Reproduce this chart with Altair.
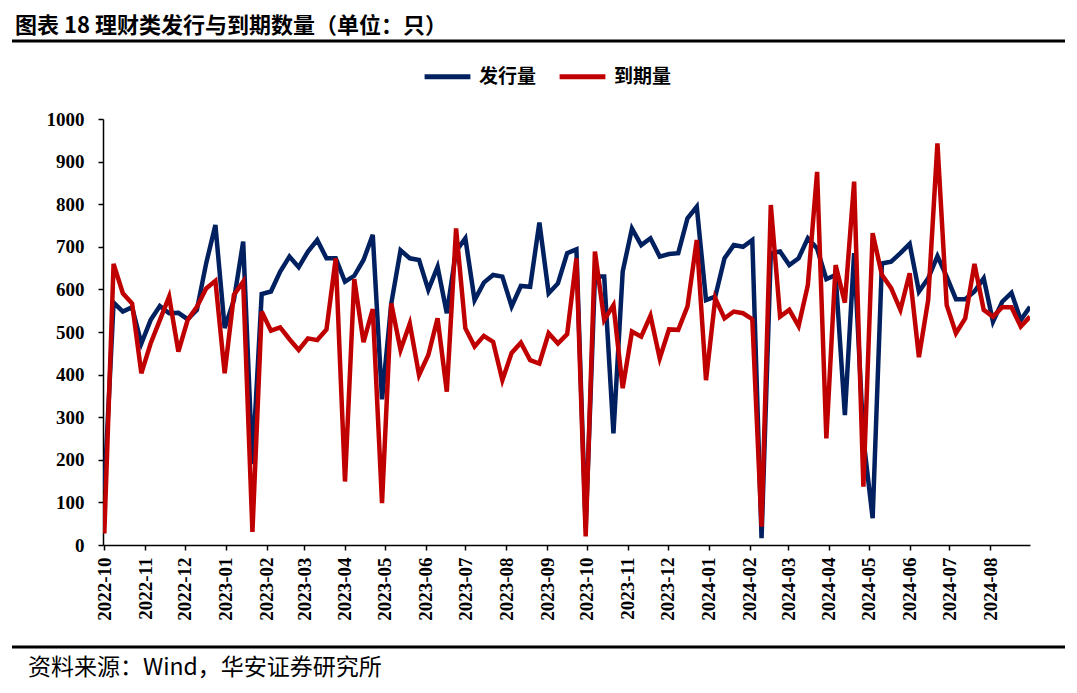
import altair as alt
import pandas as pd

# ---------------- data ----------------
title_text = "图表 18 理财类发行与到期数量（单位：只）"
source_text = "资料来源：Wind，华安证券研究所"
series_names = ["发行量", "到期量"]
series_colors = ["#002060", "#C00000"]

month_ticks = ["2022-10", "2022-11", "2022-12", "2023-01", "2023-02", "2023-03",
               "2023-04", "2023-05", "2023-06", "2023-07", "2023-08", "2023-09",
               "2023-10", "2023-11", "2023-12", "2024-01", "2024-02", "2024-03",
               "2024-04", "2024-05", "2024-06", "2024-07", "2024-08"]
y_ticks = [0, 100, 200, 300, 400, 500, 600, 700, 800, 900, 1000]

start_date = "2022-10-01"   # weekly observations from this date
x_domain = ["2022-09-30", "2024-08-31"]

issue = [
    130, 569, 548, 558, 473, 528, 561, 544, 545, 530,
    552, 661, 751, 509, 575, 712, 190, 589, 595, 642,
    677, 652, 689, 716, 673, 673, 618, 632, 669, 728,
    342, 567, 692, 673, 669, 599, 653, 544, 690, 720,
    575, 616, 634, 630, 560, 608, 606, 757, 591, 614,
    685, 694, 40, 630, 630, 262, 642, 743, 704, 720,
    677, 683, 685, 767, 794, 575, 583, 673, 704, 700,
    716, 16, 685, 689, 657, 673, 720, 696, 624, 634,
    305, 685, 250, 63, 661, 665, 685, 707, 595, 626,
    678, 630, 577, 577, 595, 626, 524, 571, 592, 528,
    559,
]
maturity = [
    27, 660, 591, 567, 403, 473, 528, 583, 454, 528,
    559, 602, 620, 403, 587, 618, 31, 548, 503, 511,
    483, 458, 485, 481, 506, 673, 149, 624, 476, 554,
    98, 567, 458, 520, 399, 446, 532, 360, 743, 509,
    466, 491, 477, 387, 451, 475, 434, 426, 497, 473,
    495, 673, 20, 689, 528, 563, 368, 501, 489, 538,
    438, 506, 505, 560, 716, 387, 579, 532, 548, 544,
    530, 43, 798, 536, 552, 514, 610, 876, 250, 657,
    569, 853, 137, 732, 634, 603, 552, 638, 441, 575,
    943, 563, 497, 532, 660, 552, 536, 558, 558, 513,
    536,
]

# ---------------- table ----------------
dates = pd.date_range(start_date, periods=len(issue), freq="7D").strftime("%Y-%m-%d").tolist()
df = pd.DataFrame({
    "date": dates + dates,
    "value": issue + maturity,
    "series": [series_names[0]] * len(issue) + [series_names[1]] * len(maturity),
})


def ms(s):
    return int(pd.Timestamp(s).value // 10**6)


tick_values = [ms(m + "-01") for m in month_ticks]

LABEL_FONT = "Liberation Serif"
CJK = "Noto Sans CJK SC"

x_enc = alt.X(
    "date:T",
    scale=alt.Scale(type="utc", domain=[ms(d) for d in x_domain]),
    axis=alt.Axis(
        values=tick_values,
        labelExpr="utcFormat(datum.value, '%Y-%m')",
        labelAngle=270,
        labelOverlap=False,
        labelBound=False,
        labelPadding=7,
        title=None,
        grid=False,
        tickSize=5,
    ),
)
y_enc = alt.Y(
    "value:Q",
    scale=alt.Scale(domain=[0, 1000], nice=False),
    axis=alt.Axis(values=y_ticks, format="d", title=None, grid=False, tickSize=5, labelPadding=14),
)
color_enc = alt.Color(
    "series:N",
    scale=alt.Scale(domain=series_names, range=series_colors),
    legend=alt.Legend(
        title=None,
        orient="none",
        legendX=319,
        legendY=-68,
        direction="horizontal",
        symbolType="stroke",
        symbolStrokeWidth=5,
        symbolSize=2100,
        labelFont=CJK,
        labelFontWeight="bold",
        labelFontSize=19,
        labelColor="black",
        columnPadding=12,
        labelOffset=6,
    ),
)

base = alt.Chart(df)
line_issue = base.transform_filter(alt.datum.series == series_names[0]).mark_line(
    strokeWidth=4.5, clip=True
).encode(x=x_enc, y=y_enc, color=color_enc)
line_mat = base.transform_filter(alt.datum.series == series_names[1]).mark_line(
    strokeWidth=4.5, clip=True
).encode(x=x_enc, y=y_enc, color=color_enc)

one = pd.DataFrame({"t": [title_text]})
title = alt.Chart(one).mark_text(
    font=CJK, fontSize=22, fontWeight="bold", align="left", baseline="top", color="black"
).encode(x=alt.value(-88), y=alt.value(-103), text="t:N")

top_rule = alt.Chart(one).mark_rule(color="black", strokeWidth=3).encode(
    x=alt.value(-91), x2=alt.value(962), y=alt.value(-78)
)
bottom_rule = alt.Chart(one).mark_rule(color="black", strokeWidth=3).encode(
    x=alt.value(-91), x2=alt.value(962), y=alt.value(528)
)
src = pd.DataFrame({"t": [source_text]})
source = alt.Chart(src).mark_text(
    font=CJK, fontSize=23, align="left", baseline="middle", color="black"
).encode(x=alt.value(-75), y=alt.value(549), text="t:N")

chart = alt.layer(line_issue, line_mat, title, top_rule, bottom_rule, source).properties(
    width=927,
    height=426,
    autosize=alt.AutoSizeParams(type="none"),
    padding={"left": 95, "top": 111, "right": 39, "bottom": 140},
).configure_view(stroke=None).configure_axis(
    domainColor="black",
    domainWidth=1.5,
    tickColor="black",
    tickWidth=1.5,
    labelFont=LABEL_FONT,
    labelFontWeight="bold",
    labelFontSize=19,
    labelColor="black",
)

chart.save("out.html", embed_options={"renderer": "svg", "actions": False})
